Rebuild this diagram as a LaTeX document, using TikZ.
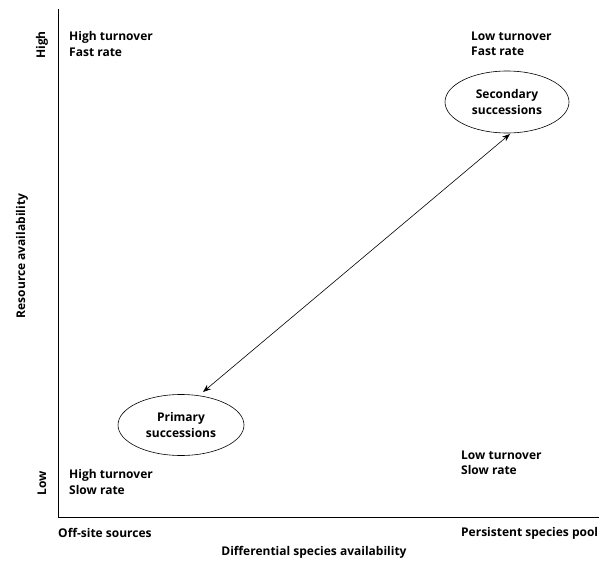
\documentclass[tikz,border=0pt]{standalone}
\usepackage{fontspec}
\setmainfont{Open Sans}
\usetikzlibrary{arrows.meta}
\begin{document}
\begin{tikzpicture}[x=1pt,y=-1pt,
  lbl/.style={font=\bfseries\fontsize{12}{15.5}\selectfont, align=left, anchor=west, inner sep=0pt},
  axlbl/.style={font=\bfseries\fontsize{12}{13}\selectfont, inner sep=0pt},
  ovtxt/.style={inner sep=0pt, align=center, font=\bfseries\fontsize{12}{15.5}\selectfont}]
\useasboundingbox (0,0) rectangle (599,562);
\clip (0,0) rectangle (599,562);
\coordinate (top) at (58,9);
\coordinate (origin) at (58,517);
\coordinate (right) at (600,517);
\draw[line width=0.8pt] (top) -- (origin) -- (right);
\node[lbl] (hf) at (69,44) {High turnover\\Fast rate};
\node[lbl] (lf) at (471,44) {Low turnover\\Fast rate};
\node[lbl] (ls) at (461,463) {Low turnover\\Slow rate};
\node[lbl] (hs) at (69,482) {High turnover\\Slow rate};
\node[axlbl, anchor=west] (off) at (58,533) {Off-site sources};
\node[axlbl, anchor=west] (pers) at (461,533) {Persistent species pool};
\node[axlbl] (xlab) at (314,552) {Differential species availability};
\node[axlbl, rotate=90] (high) at (42,45) {High};
\node[axlbl, rotate=90] (low) at (42,483) {Low};
\node[axlbl, rotate=90] (ylab) at (22,256) {Resource availability};
\draw[line width=0.6pt] (181,425) ellipse [x radius=63, y radius=30.5];
\node[ovtxt] (prim) at (181,425) {Primary\\successions};
\draw[line width=0.6pt] (507,102) ellipse [x radius=62, y radius=31];
\node[ovtxt] (sec) at (507,102) {Secondary\\successions};
\coordinate (pa) at (203,392);
\coordinate (sa) at (510,134);
\draw[line width=0.6pt, {Stealth[length=8pt,width=6pt]}-{Stealth[length=8pt,width=6pt]}] (pa) -- (sa);
\end{tikzpicture}
\end{document}
